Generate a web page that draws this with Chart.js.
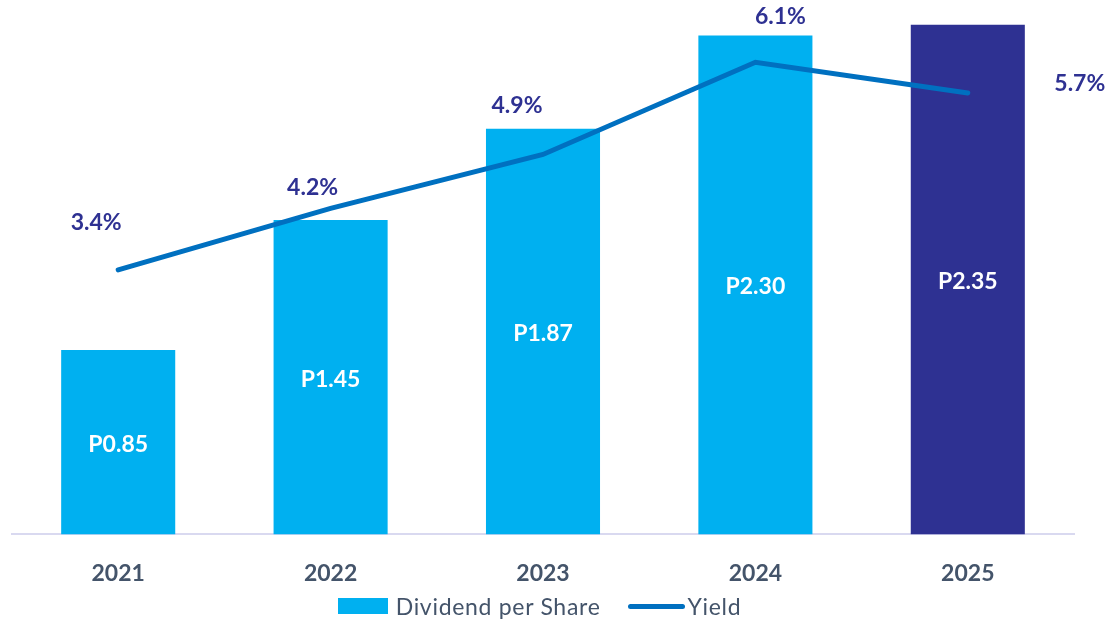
<!DOCTYPE html>
<html>
<head>
<meta charset="utf-8">
<script src="https://cdn.jsdelivr.net/npm/chart.js@4.4.1/dist/chart.umd.min.js"></script>
<style>
  html, body { margin: 0; padding: 0; background: #fff; }
  #wrap { position: relative; width: 1109px; height: 620px; }
  #legend {
    position: absolute; left: 0; right: 30px; top: 592px;
    display: flex; justify-content: center; align-items: center;
    font-family: Lato, "Open Sans", sans-serif; font-size: 23px; color: #44546A;
    letter-spacing: 0.7px;
  }
  .item { display: flex; align-items: center; margin: 0 14px; }
  .box { width: 50px; height: 16px; background: #00B0F0; margin-right: 8px; }
  .ln { width: 57px; height: 5px; border-radius: 3px; background: #0070C0; margin-right: 2px; }
</style>
</head>
<body>
<div id="wrap">
  <canvas id="chart" width="1109" height="620"></canvas>
  <div id="legend">
    <div class="item"><span class="box"></span>Dividend per Share</div>
    <div class="item"><span class="ln"></span>Yield</div>
  </div>
</div>
<script>
document.addEventListener("DOMContentLoaded", function () {
    // chart data
    const years = ['2021', '2022', '2023', '2024', '2025'];
    const dividends = [0.85, 1.45, 1.87, 2.30, 2.35];
    const yields = [3.4, 4.2, 4.9, 6.1, 5.7];
    const barColors = ['#00B0F0', '#00B0F0', '#00B0F0', '#00B0F0', '#2E3192'];

    const FONT = 'Lato, "Open Sans", sans-serif';

    // labels on bars (centered) and on the yield line (offset like the original)
    const labelPlugin = {
        id: 'labels',
        afterDatasetsDraw(chart) {
            const ctx = chart.ctx;
            ctx.save();
            ctx.font = 'bold 23px ' + FONT;
            ctx.textAlign = 'center';
            ctx.textBaseline = 'middle';

            chart.getDatasetMeta(1).data.forEach((bar, i) => {
                ctx.fillStyle = '#FFFFFF';
                ctx.fillText('P' + dividends[i].toFixed(2), bar.x, (bar.y + bar.base) / 2 + 2);
            });

            const offsets = [[-22, -47], [-18, -21], [-26, -49], [25, -46], [112, -9]];
            chart.getDatasetMeta(0).data.forEach((pt, i) => {
                ctx.fillStyle = '#2E3192';
                ctx.fillText(yields[i].toFixed(1) + '%', pt.x + offsets[i][0], pt.y + offsets[i][1]);
            });
            ctx.restore();
        }
    };

    const ctx = document.getElementById('chart').getContext('2d');
    new Chart(ctx, {
        data: {
            labels: years,
            datasets: [{
                type: 'line',
                label: 'Yield',
                data: yields,
                yAxisID: 'y1',
                borderColor: '#0070C0',
                borderWidth: 5,
                borderCapStyle: 'round',
                pointRadius: 0,
                fill: false,
                tension: 0
            }, {
                type: 'bar',
                label: 'Dividend per Share',
                data: dividends,
                yAxisID: 'y',
                backgroundColor: barColors,
                categoryPercentage: 0.537,
                barPercentage: 1.0
            }]
        },
        options: {
            responsive: false,
            animation: false,
            layout: { padding: { left: 12, right: 35, top: 3, bottom: 8 } },
            plugins: {
                legend: { display: false },
                tooltip: { enabled: false }
            },
            scales: {
                x: {
                    grid: { display: false, drawTicks: false },
                    border: { color: '#D9D9F0', width: 2 },
                    ticks: {
                        padding: 25,
                        color: '#44546A',
                        font: { family: FONT, size: 23, weight: 'bold' }
                    }
                },
                y: { display: false, min: 0, max: 2.45 },
                y1: { display: false, min: -0.04, max: 6.87 }
            }
        },
        plugins: [labelPlugin]
    });
});
</script>
</body>
</html>
